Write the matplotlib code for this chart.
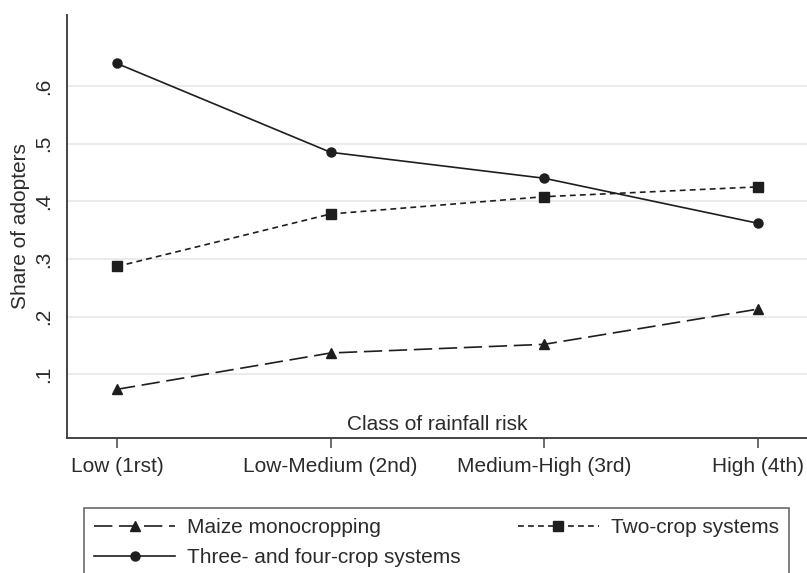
import matplotlib
matplotlib.use("Agg")
import matplotlib.pyplot as plt
import numpy as np

plt.rcParams['font.family'] = ['Liberation Sans', 'DejaVu Sans']

categories = ["Low (1rst)", "Low-Medium (2nd)", "Medium-High (3rd)", "High (4th)"]
maize = [0.074, 0.137, 0.152, 0.213]
two_crop = [0.287, 0.378, 0.408, 0.425]
three_four = [0.639, 0.485, 0.440, 0.362]
yticks = [0.1, 0.2, 0.3, 0.4, 0.5, 0.6]
ytick_labels = [".1", ".2", ".3", ".4", ".5", ".6"]

txt = "#2b2b2b"
line_c = "#1e1e1e"
fs = 15

fig = plt.figure(figsize=(8.07, 5.73), dpi=100)
ax = fig.add_axes([0.0830, 0.2356, 0.917, 0.7382])

x = np.arange(1, len(categories) + 1)

l_maize, = ax.plot(x, maize, color=line_c, lw=1.2, marker='^', markersize=7.5,
                   dashes=(11, 4), label="Maize monocropping")
l_two, = ax.plot(x, two_crop, color=line_c, lw=1.2, marker='s', markersize=6.5,
                 dashes=(3.5, 2.5), label="Two-crop systems")
l_three, = ax.plot(x, three_four, color=line_c, lw=1.2, marker='o', markersize=6.5,
                   linestyle='-', label="Three- and four-crop systems")

ax.set_xlim(0.766, 4.231)
ax.set_ylim(-0.0104, 0.723)

ax.set_yticks(yticks)
ax.set_yticklabels(ytick_labels, rotation=90, va='center', fontsize=fs, color=txt)
ax.tick_params(axis='y', length=0, pad=10)
ax.set_xticks(x)
ax.set_xticklabels(categories, fontsize=fs, color=txt)
ax.tick_params(axis='x', length=7, width=1.1, color="#444444", pad=7)

ax.grid(axis='y', color="#e9e9e9", lw=1.3)
ax.set_axisbelow(True)
for s in ['top', 'right']:
    ax.spines[s].set_visible(False)
for s in ['left', 'bottom']:
    ax.spines[s].set_color("#444444")
    ax.spines[s].set_linewidth(1.4)

ax.set_ylabel("Share of adopters", fontsize=fs, color=txt)
ax.yaxis.set_label_coords(-0.0505, 0.5)
ax.set_xlabel("Class of rainfall risk", fontsize=fs, color=txt)
ax.xaxis.set_label_coords(0.5, 0.033)
ax.xaxis.label.set_va('center')

leg = fig.legend(handles=[l_maize, l_three, l_two], ncol=2,
                 loc='upper left', bbox_to_anchor=(0.1041, 0.0, 0.8736, 0.1134),
                 mode='expand', borderaxespad=0, fontsize=fs, frameon=True,
                 fancybox=False, handlelength=3.85, handletextpad=0.58,
                 labelspacing=0.5, borderpad=0.5, numpoints=1)
leg.get_frame().set_edgecolor("#444444")
leg.get_frame().set_linewidth(1.2)
for t in leg.get_texts():
    t.set_color(txt)

fig.savefig("out.png", dpi=100)
